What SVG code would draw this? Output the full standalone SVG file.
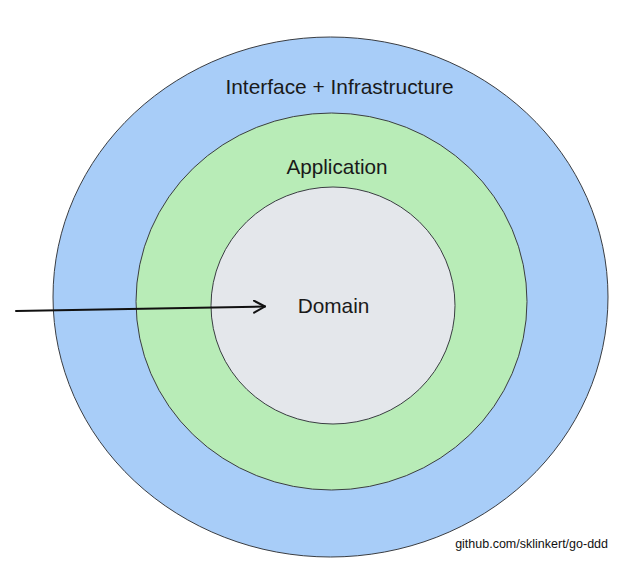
<svg xmlns="http://www.w3.org/2000/svg" width="628" height="573" viewBox="0 0 628 573">
  <style>
    .ring { stroke: #3a3d42; stroke-width: 1; }
    .lbl { font-family: "Liberation Sans", Arial, Helvetica, sans-serif; fill: #1a1a1a; text-anchor: middle; }
    .conn { stroke: #111; stroke-width: 2; fill: none; stroke-linecap: round; }
  </style>
  <defs>
    <marker id="open" markerWidth="14" markerHeight="14" refX="12" refY="7" orient="auto" markerUnits="userSpaceOnUse">
      <path d="M1,1 L12,7 L1,13" fill="none" stroke="#111" stroke-width="2" stroke-linecap="round" stroke-linejoin="round"/>
    </marker>
  </defs>
  <rect width="628" height="573" fill="#ffffff"/>
  <g id="infrastructure">
    <ellipse class="ring" cx="330.5" cy="297" rx="277.5" ry="260" fill="#a8cdf8"/>
    <text class="lbl" x="339.5" y="94" font-size="20.9">Interface + Infrastructure</text>
  </g>
  <g id="application">
    <ellipse class="ring" cx="331.5" cy="301.5" rx="195.5" ry="188.5" fill="#b8ecb7"/>
    <text class="lbl" x="337" y="174" font-size="20.7">Application</text>
  </g>
  <g id="domain">
    <ellipse class="ring" cx="333" cy="305.5" rx="122" ry="118.5" fill="#e4e7eb"/>
    <text class="lbl" x="333.5" y="313" font-size="20.8">Domain</text>
  </g>
  <g id="connectors">
    <path class="conn" d="M16,311 L265,306.5" marker-end="url(#open)"/>
  </g>
  <text x="608" y="548" font-size="12.5" text-anchor="end" font-family="Liberation Sans, Arial, Helvetica, sans-serif" fill="#111">github.com/sklinkert/go-ddd</text>
</svg>
